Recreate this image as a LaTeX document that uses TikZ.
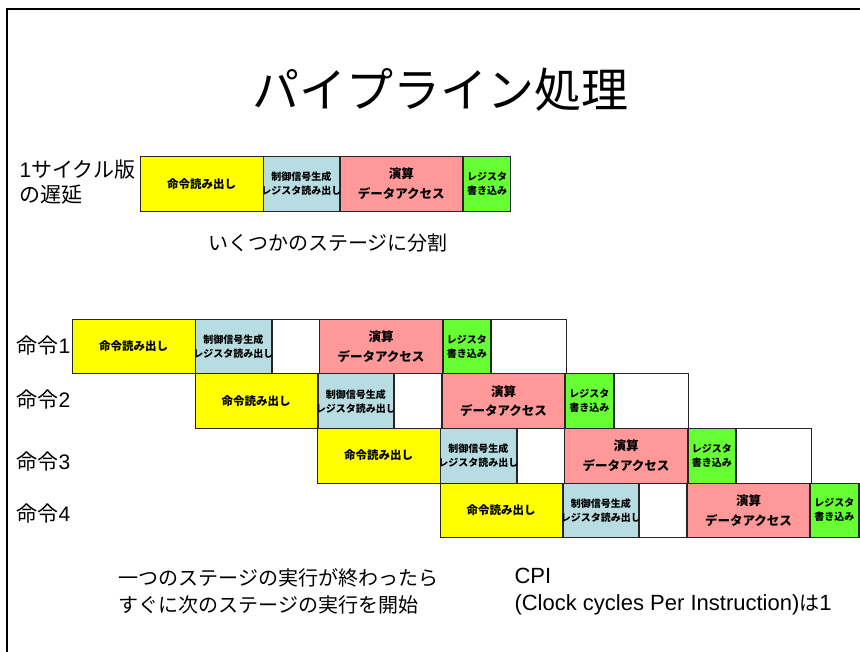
\documentclass[tikz,border=0pt]{standalone}
\usepackage{fontspec}
\setmainfont{Liberation Sans}
\newfontfamily\jp{Noto Sans CJK JP}
\definecolor{yl}{RGB}{255,255,0}
\definecolor{bl}{RGB}{183,221,227}
\definecolor{pk}{RGB}{255,153,153}
\definecolor{gr}{RGB}{102,255,51}
\newcommand{\zw}[1]{\makebox[0pt]{#1}}
\tikzset{
  cell/.style={draw=black!85, line width=0.8pt, anchor=north west, inner sep=0pt, align=center, text=black},
  fetchbox/.style={cell, fill=yl, minimum width=122.5pt, font=\jp\bfseries\fontsize{11.5}{14}\selectfont},
  decodebox/.style={cell, fill=bl, minimum width=75.5pt, font=\jp\bfseries\fontsize{10}{14}\selectfont},
  idlebox/.style={cell, fill=white},
  execbox/.style={cell, fill=pk, minimum width=122.5pt, font=\jp\bfseries\fontsize{12.5}{20}\selectfont},
  wbbox/.style={cell, fill=gr, minimum width=47.5pt, font=\jp\bfseries\fontsize{10}{14}\selectfont},
}
\begin{document}
\begin{tikzpicture}[x=1pt,y=-1pt]
\useasboundingbox (0,0) rectangle (860,652);
\fill[white] (0,0) rectangle (860,652);
% frame
\draw[line width=2pt] (7,700) -- (7,9) -- (900,9);
% title
\node[font=\jp\fontsize{47}{50}\selectfont] (title) at (440,90) {パイプライン処理};
% single-cycle
\node[anchor=west, align=left, font=\fontsize{21}{25}\selectfont] (lat) at (16,182.5) {1{\jp サイクル版}\\{\jp の遅延}};
\node[fetchbox, minimum height=55pt] (sf) at (140,156) {\zw{命令読み出し}};
\node[decodebox, minimum height=55pt, anchor=north west] (sd) at (sf.north east) {\zw{制御信号生成}\\\zw{レジスタ読み出し}};
\node[execbox, minimum height=55pt, anchor=north west] (se) at (sd.north east) {\zw{演算}\\\zw{データアクセス}};
\node[wbbox, minimum height=55pt, anchor=north west] (sw) at (se.north east) {\zw{レジスタ}\\\zw{書き込み}};
\node[font=\jp\fontsize{20}{24}\selectfont] (split) at (328,243) {いくつかのステージに分割};
% pipeline
\foreach \i/\ly in {1/346,2/400,3/462,4/514}{
  \pgfmathsetmacro{\ox}{72+122.5*(\i-1)}
  \pgfmathsetmacro{\oy}{319+54.5*(\i-1)}
  \node[anchor=west, font=\fontsize{21}{25}\selectfont] (l\i) at (13,\ly) {{\jp 命令}\i};
  \node[fetchbox, minimum height=54.5pt] (f\i) at (\ox,\oy) {\zw{命令読み出し}};
  \node[decodebox, minimum height=54.5pt, anchor=north west] (d\i) at (f\i.north east) {\zw{制御信号生成}\\\zw{レジスタ読み出し}};
  \node[idlebox, minimum width=47pt, minimum height=54.5pt, anchor=north west] (a\i) at (d\i.north east) {};
  \node[execbox, minimum height=54.5pt, anchor=north west] (e\i) at (a\i.north east) {\zw{演算}\\\zw{データアクセス}};
  \node[wbbox, minimum height=54.5pt, anchor=north west] (w\i) at (e\i.north east) {\zw{レジスタ}\\\zw{書き込み}};
  \node[idlebox, minimum width=74.5pt, minimum height=54.5pt, anchor=north west] (b\i) at (w\i.north east) {};
}
% notes
\node[anchor=west, align=left, font=\jp\fontsize{20}{27}\selectfont] (note) at (115,591.5) {一つのステージの実行が終わったら\\すぐに次のステージの実行を開始};
\node[anchor=west, align=left, font=\fontsize{22}{27}\selectfont] (cpi) at (511,591.5) {CPI\\(Clock cycles Per Instruction){\jp\fontsize{20}{27}\selectfont は}1};
\end{tikzpicture}
\end{document}
